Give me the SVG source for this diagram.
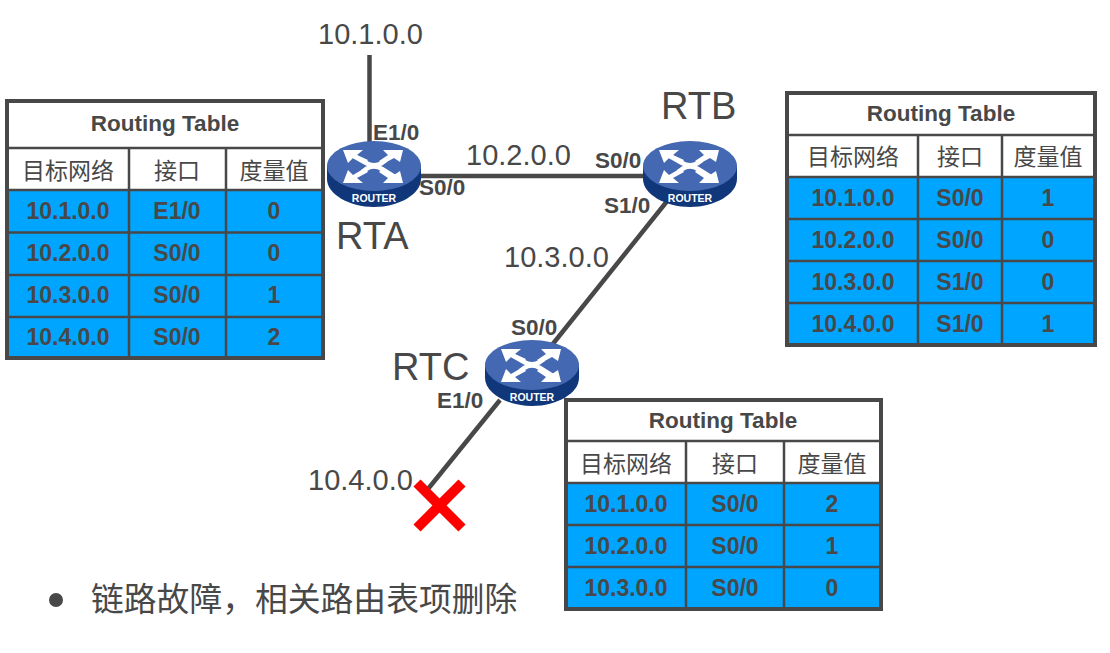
<svg xmlns="http://www.w3.org/2000/svg" width="1110" height="653" viewBox="0 0 1110 653">
<style>
text{font-family:"Liberation Sans","Noto Sans CJK SC",sans-serif;fill:#484848}
.net{font-size:29px}
.name{font-size:38px}
.if{font-size:22.500px;font-weight:bold}
.tt{font-size:22.500px;font-weight:bold;text-anchor:middle}
.th{font-size:23px;text-anchor:middle}
.td{font-size:23px;font-weight:bold;text-anchor:middle}
.fill{fill:#00a5ff}
.out{fill:none;stroke:#484848;stroke-width:4}
.in{fill:none;stroke:#484848;stroke-width:2.5}
.link{fill:none;stroke:#484848;stroke-width:4.5}
.rl{font-size:10.500px;font-weight:bold;fill:#fff;text-anchor:middle}
.sh{fill:none;stroke:#fff;stroke-width:4.500}
</style>
<defs>
<g id="router">
<path d="M-47 1V14C-47 29-25 42 0 42S47 29 47 14V1Z" fill="#103779"/>
<ellipse cx="0" cy="1" rx="47" ry="25" fill="#4468b2"/>
<path class="sh" d="M-24-11-8-2C-3 1 3 1 8-2L12-5"/>
<path class="sh" d="M24 14 8 4C3 1-3 1-8 4L-12 7"/>
<path d="M-31-15H-11L-17-10-6-5-9-1-21-7-26-2Z" fill="#fff"/>
<path d="M29-15H9L14-10 5-4 9-1 20-7 26-3Z" fill="#fff"/>
<path d="M-31 18H-11L-17 13-6 7-9 3-21 10-26 5Z" fill="#fff"/>
<path d="M29 18H9L14 13 5 7 9 3 20 10 26 6Z" fill="#fff"/>
<text class="rl" x="0" y="37" style="fill:#fff">ROUTER</text>
</g>
</defs>
<g id="connectors">
<path class="link" d="M369.500 55V150"/>
<path class="link" d="M400 176H660"/>
<path class="link" d="M668 200 552 345"/>
<path class="link" d="M500 400 428 489"/>
</g>
<g id="RTA"><use href="#router" x="374" y="165"/><text class="name" x="336" y="249">RTA</text></g>
<g id="RTB"><use href="#router" x="690" y="165"/><text class="name" x="661" y="119">RTB</text></g>
<g id="RTC"><use href="#router" x="532" y="364"/><text class="name" x="392" y="380">RTC</text></g>
<g id="labels">
<text class="net" x="318" y="44">10.1.0.0</text>
<text class="net" x="466" y="165">10.2.0.0</text>
<text class="net" x="504" y="267">10.3.0.0</text>
<text class="net" x="308" y="490">10.4.0.0</text>
<text class="if" x="373" y="140">E1/0</text>
<text class="if" x="419" y="195">S0/0</text>
<text class="if" x="595" y="168">S0/0</text>
<text class="if" x="604" y="213">S1/0</text>
<text class="if" x="511" y="335">S0/0</text>
<text class="if" x="437" y="408">E1/0</text>
</g>
<g id="fault"><path d="M417 483 462 528M462 483 417 528" fill="none" stroke="#f00" stroke-width="10"/></g>
<g id="tableA">
<rect class="fill" x="7" y="190" width="316" height="168"/>
<path class="in" d="M7 148H323M7 190H323M7 232.500H323M7 275H323M7 317H323M129 148V358M226 148V358"/>
<rect class="out" x="7" y="101" width="316" height="257"/>
<text class="tt" x="165" y="131">Routing Table</text>
<text class="th" x="68" y="179">目标网络</text><text class="th" x="177" y="179">接口</text><text class="th" x="274" y="179">度量值</text>
<text class="td" x="68" y="219">10.1.0.0</text><text class="td" x="177" y="219">E1/0</text><text class="td" x="274" y="219">0</text>
<text class="td" x="68" y="261">10.2.0.0</text><text class="td" x="177" y="261">S0/0</text><text class="td" x="274" y="261">0</text>
<text class="td" x="68" y="303">10.3.0.0</text><text class="td" x="177" y="303">S0/0</text><text class="td" x="274" y="303">1</text>
<text class="td" x="68" y="345">10.4.0.0</text><text class="td" x="177" y="345">S0/0</text><text class="td" x="274" y="345">2</text>
</g>
<g id="tableB">
<rect class="fill" x="787" y="177" width="308" height="168"/>
<path class="in" d="M787 135H1095M787 177H1095M787 219H1095M787 261H1095M787 303H1095M918 135V345M1002 135V345"/>
<rect class="out" x="787" y="93" width="308" height="252"/>
<text class="tt" x="941" y="121">Routing Table</text>
<text class="th" x="853" y="165">目标网络</text><text class="th" x="960" y="165">接口</text><text class="th" x="1048" y="165">度量值</text>
<text class="td" x="853" y="206">10.1.0.0</text><text class="td" x="960" y="206">S0/0</text><text class="td" x="1048" y="206">1</text>
<text class="td" x="853" y="248">10.2.0.0</text><text class="td" x="960" y="248">S0/0</text><text class="td" x="1048" y="248">0</text>
<text class="td" x="853" y="290">10.3.0.0</text><text class="td" x="960" y="290">S1/0</text><text class="td" x="1048" y="290">0</text>
<text class="td" x="853" y="332">10.4.0.0</text><text class="td" x="960" y="332">S1/0</text><text class="td" x="1048" y="332">1</text>
</g>
<g id="tableC">
<rect class="fill" x="566" y="483" width="315" height="126"/>
<path class="in" d="M566 441H881M566 483H881M566 525H881M566 567H881M686 441V609M784 441V609"/>
<rect class="out" x="566" y="400" width="315" height="209"/>
<text class="tt" x="723" y="428">Routing Table</text>
<text class="th" x="626" y="472">目标网络</text><text class="th" x="735" y="472">接口</text><text class="th" x="832" y="472">度量值</text>
<text class="td" x="626" y="512">10.1.0.0</text><text class="td" x="735" y="512">S0/0</text><text class="td" x="832" y="512">2</text>
<text class="td" x="626" y="554">10.2.0.0</text><text class="td" x="735" y="554">S0/0</text><text class="td" x="832" y="554">1</text>
<text class="td" x="626" y="596">10.3.0.0</text><text class="td" x="735" y="596">S0/0</text><text class="td" x="832" y="596">0</text>
</g>
<g id="note">
<circle cx="56" cy="600" r="7" fill="#484848"/>
<text x="91" y="611" font-size="32.800">链路故障，相关路由表项删除</text>
</g>
</svg>
